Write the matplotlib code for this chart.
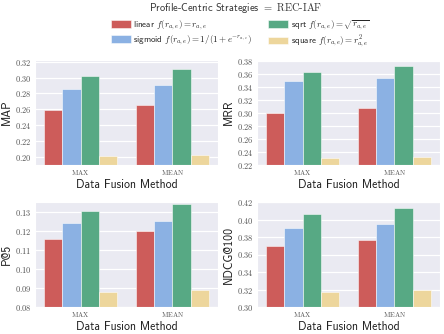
import matplotlib
matplotlib.use("Agg")
import matplotlib.pyplot as plt
import numpy as np
import seaborn as sns

sns.set_style("darkgrid")
plt.rcParams['font.family'] = ['cmss10', 'DejaVu Sans']
plt.rcParams['mathtext.fontset'] = 'cm'
plt.rcParams['axes.unicode_minus'] = False

methods = ["MAX", "MEAN"]
strategies = ["linear", "sigmoid", "sqrt", "square"]
legend_labels = [
    r"linear $f(r_{a,e}) = r_{a,e}$",
    r"sigmoid $f(r_{a,e}) = 1/(1+e^{-r_{a,e}})$",
    r"sqrt $f(r_{a,e}) = \sqrt{r_{a,e}}$",
    r"square $f(r_{a,e}) = r_{a,e}^2$",
]
colors = ["#CD5C5A", "#8BB1E3", "#57A984", "#EDD69C"]

map_vals = {"linear": [0.259, 0.266], "sigmoid": [0.285, 0.290],
            "sqrt": [0.302, 0.311], "square": [0.201, 0.203]}
mrr_vals = {"linear": [0.300, 0.308], "sigmoid": [0.349, 0.355],
            "sqrt": [0.3635, 0.373], "square": [0.231, 0.2325]}
p5_vals = {"linear": [0.1159, 0.1201], "sigmoid": [0.1242, 0.1254],
           "sqrt": [0.1304, 0.1339], "square": [0.0881, 0.0892]}
ndcg_vals = {"linear": [0.3697, 0.3762], "sigmoid": [0.390, 0.3946],
             "sqrt": [0.4061, 0.4130], "square": [0.3169, 0.3195]}

panels = [
    ("MAP", map_vals, (0.19, 0.322), np.arange(0.20, 0.321, 0.02), "%.2f"),
    ("MRR", mrr_vals, (0.22, 0.382), np.arange(0.22, 0.381, 0.02), "%.2f"),
    ("P@5", p5_vals, (0.08, 0.1352), np.arange(0.08, 0.131, 0.01), "%.2f"),
    ("NDCG@100", ndcg_vals, (0.30, 0.42), np.arange(0.30, 0.421, 0.02), "%.2f"),
]

W, H = 444, 334
fig = plt.figure(figsize=(W / 100, H / 100), dpi=100)
boxes = [
    (35, 60, 218, 165),
    (257, 60, 440, 165),
    (35, 202, 218, 307),
    (257, 202, 440, 307),
]

x = np.arange(len(methods))
n = len(strategies)
bw = 0.8 / n
handles = []
for (name, vals, ylim, yticks, fmt), (l, t, r, b) in zip(panels, boxes):
    ax = fig.add_axes([l / W, 1 - b / H, (r - l) / W, (b - t) / H])
    for i, s in enumerate(strategies):
        bars = ax.bar(x - 0.4 + bw * (i + 0.5), vals[s], width=bw,
                      color=colors[i], edgecolor=(1, 1, 1, 0.6), linewidth=0.6,
                      zorder=2)
        if len(handles) < n:
            handles.append(bars)
    ax.set_xlim(-0.5, 1.5)
    ax.set_ylim(*ylim)
    ax.set_yticks(yticks)
    ax.set_yticklabels([r"$%s$" % (fmt % v) for v in yticks], fontsize=6,
                       color="#555555")
    ax.set_xticks(x)
    ax.set_xticklabels([r"$\mathrm{%s}$" % m for m in methods], fontsize=5,
                       color="#555555")
    ax.tick_params(axis='both', length=0, pad=2.5)
    ax.set_ylabel(name, fontsize=8.5, labelpad=1.5, color="#222222")
    ax.set_xlabel("Data Fusion Method", fontsize=8.5, labelpad=1, color="#222222")
    ax.grid(True, axis='y', color='white', linewidth=0.9)
    ax.grid(False, axis='x')
    ax.set_axisbelow(True)

fig.text(236 / W, 1 - 8 / H, r"Profile-Centric Strategies $=$ $\mathrm{REC}$-$\mathrm{IAF}$",
         ha='center', va='center', fontsize=7.5, color="#333333")
fig.legend(handles, legend_labels, loc='center', bbox_to_anchor=(240 / W, 1 - 34 / H),
           ncol=2, frameon=False, fontsize=6.5, handlelength=2.2, handleheight=0.9,
           columnspacing=1.8, handletextpad=0.3, labelspacing=0.15,
           borderpad=0.1)

fig.savefig("out.png", dpi=100)
